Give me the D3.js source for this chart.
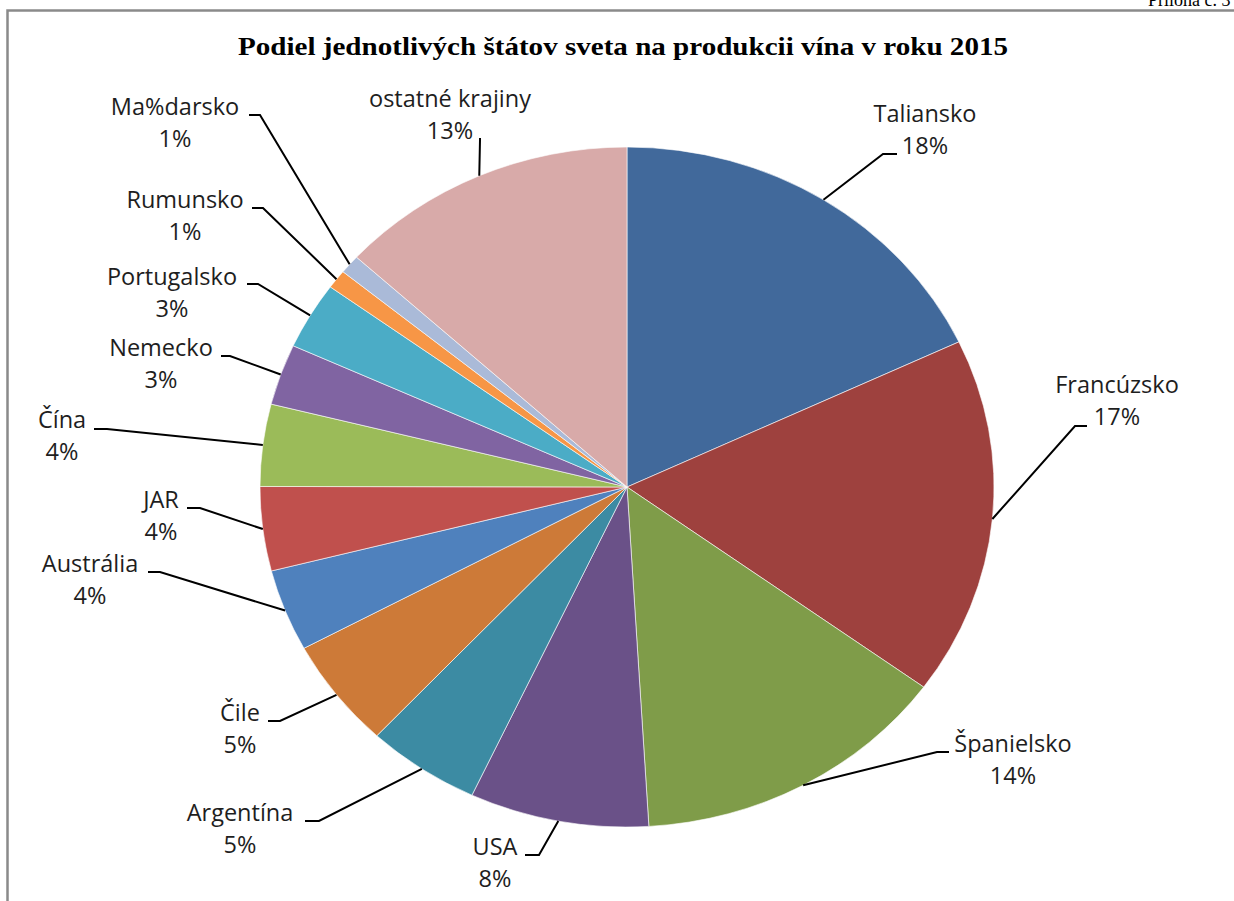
<!DOCTYPE html>
<html>
<head>
<meta charset="utf-8">
<script src="https://cdn.jsdelivr.net/npm/d3@7/dist/d3.min.js"></script>
<style>
  html, body { margin: 0; padding: 0; background: #fff; }
  svg { display: block; }
</style>
</head>
<body>
<svg id="chart" width="1234" height="901"></svg>
<script>
// ---- data ----
const countries = ["Taliansko", "Francúzsko", "Španielsko", "USA", "Argentína", "Čile", "Austrália",
                   "JAR", "Čína", "Nemecko", "Portugalsko", "Rumunsko", "Ma%darsko", "ostatné krajiny"];
const shares = [18.0, 17.05, 14.05, 7.9, 5.0, 5.2, 3.9, 4.0, 3.9, 2.9, 3.2, 0.9, 0.9, 13.2];
const colors = ["#41699B", "#9E413E", "#7F9C49", "#6A5188", "#3C8BA3", "#CD7A38", "#4F81BD",
                "#C0504D", "#9BBB59", "#8064A2", "#4BACC6", "#F79646", "#AABAD8", "#D8AAA9"];
const titleText = "Podiel jednotlivých štátov sveta na produkcii vína v roku 2015";

// ---- layout (label anchors: text centre x, first baseline y; leader bend and end) ----
const labelX = [925, 1117, 1013, 495, 240, 240, 90, 161, 62, 161, 172, 185, 175, 450];
const labelY = [122, 393, 752, 855, 821, 721, 572, 508, 428, 356, 285, 208, 115, 107];
const leaderBend = [[883,154],[1075,426],[937,752],[539,855],[319,821],[280,721],[160,572],
                    [200,508],[107,429],[230,356],[258,284],[263,208],[260,115],[480,140]];
const leaderEnd  = [[897,154],[1087,426],[949,752],[525,855],[305,821],[268,721],[148,572],
                    [187,508],[94,429],[221,356],[247,284],[252,208],[249,115],[480,138]];

const svg = d3.select("#chart");
const W = 1234, H = 901;

// frame
svg.append("path")
  .attr("d", `M7.5,${H} L7.5,10.5 L${W},10.5`)
  .attr("fill", "none").attr("stroke", "#8a8a8a").attr("stroke-width", 2.5);

// page annotation (cut off at top-right, as in the source)
svg.append("text").attr("x", 1148).attr("y", 6)
  .attr("font-family", "Liberation Serif, Times New Roman, serif").attr("font-size", 18)
  .attr("fill", "#000").text("Príloha č. 3");

// title
svg.append("text").attr("x", 623).attr("y", 55).attr("text-anchor", "middle")
  .attr("font-family", "Liberation Serif, Times New Roman, serif").attr("font-weight", "bold")
  .attr("font-size", 26).attr("textLength", 770).attr("lengthAdjust", "spacingAndGlyphs")
  .attr("fill", "#000").text(titleText);

// pie (slightly elliptic as in reference)
const cx = 627, cy = 487, rx = 367, ry = 340;
const pie = d3.pie().sort(null).value(d => d)(shares);
const arc = d3.arc().innerRadius(0).outerRadius(ry);
const total = d3.sum(shares);

const g = svg.append("g").attr("transform", `translate(${cx},${cy}) scale(${rx/ry},1)`);
g.selectAll("path.slice").data(pie).join("path")
  .attr("class", "slice")
  .attr("d", arc)
  .attr("fill", (d, i) => colors[i])
  .attr("stroke", "#ffffff").attr("stroke-width", 0.6)
  .attr("vector-effect", "non-scaling-stroke");

// leaders
pie.forEach((d, i) => {
  const a = (d.startAngle + d.endAngle) / 2;
  const sx = cx + rx * Math.sin(a), sy = cy - ry * Math.cos(a);
  svg.append("path")
    .attr("d", d3.line()([[sx, sy], leaderBend[i], leaderEnd[i]]))
    .attr("fill", "none").attr("stroke", "#000").attr("stroke-width", 2);
});

// labels
const fmt = v => Math.round(v / total * 100) + "%";
pie.forEach((d, i) => {
  const t = svg.append("text")
    .attr("text-anchor", "middle")
    .attr("font-family", "Open Sans, sans-serif").attr("font-size", 23.5)
    .attr("fill", "#1e1e1e");
  t.append("tspan").attr("x", labelX[i]).attr("y", labelY[i]).text(countries[i]);
  t.append("tspan").attr("x", labelX[i]).attr("y", labelY[i] + 32).text(fmt(d.value));
});
</script>
</body>
</html>
